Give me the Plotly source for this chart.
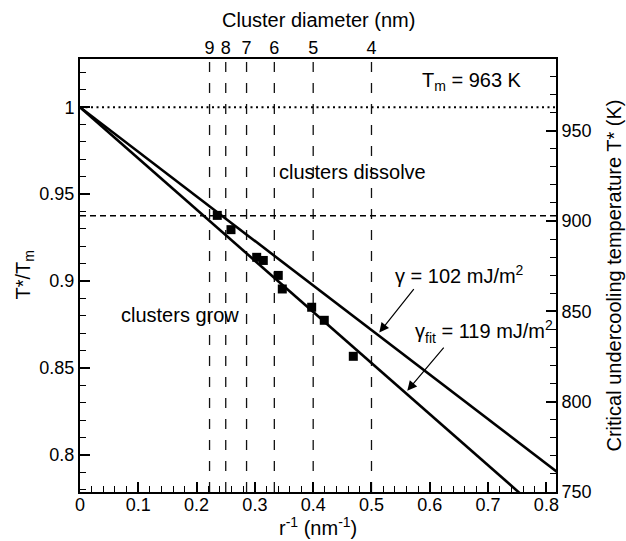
import plotly.graph_objects as go

# ---- data ----
r_inv_pts = [0.2355, 0.2590, 0.3031, 0.3144, 0.3401, 0.3470, 0.3974, 0.4190, 0.4688]
t_ratio_pts = [0.9378, 0.9296, 0.9137, 0.9119, 0.9033, 0.8955, 0.8850, 0.8775, 0.8568]

line_x = [0.0, 0.85]
line_102_y = [1.0, 0.7822]
line_119_y = [1.0, 0.7500]

diameters = [9, 8, 7, 6, 5, 4]
diam_pos = [2.0 / d for d in diameters]

Tm = 963
x_range = [0, 0.8165]
y_range = [0.7788, 1.0277]
threshold_ratio = 0.9376

x_ticks = [0, 0.1, 0.2, 0.3, 0.4, 0.5, 0.6, 0.7, 0.8]
x_ticktext = ["0", "0.1", "0.2", "0.3", "0.4", "0.5", "0.6", "0.7", "0.8"]
left_ticks = [0.8, 0.85, 0.9, 0.95, 1.0]
left_ticktext = ["0.8", "0.85", "0.9", "0.95", "1"]
right_ticks = [750, 800, 850, 900, 950]

FONT = "Arial, Liberation Sans, sans-serif"

fig = go.Figure()

fig.add_trace(go.Scatter(x=line_x, y=line_102_y, mode="lines",
                         line=dict(color="black", width=2.6), showlegend=False))
fig.add_trace(go.Scatter(x=line_x, y=line_119_y, mode="lines",
                         line=dict(color="black", width=2.6), showlegend=False))
fig.add_trace(go.Scatter(x=r_inv_pts, y=t_ratio_pts, mode="markers",
                         marker=dict(symbol="square", size=9, color="black"),
                         showlegend=False))
# dummy traces for secondary axes
fig.add_trace(go.Scatter(x=[None], y=[None], xaxis="x2", yaxis="y", showlegend=False))
fig.add_trace(go.Scatter(x=[None], y=[None], xaxis="x", yaxis="y2", showlegend=False))

shapes = []
for p in diam_pos:
    shapes.append(dict(type="line", xref="x", yref="paper", x0=p, x1=p, y0=0, y1=1,
                       line=dict(color="#111", width=1.3, dash="10px,11px"), layer="below"))
shapes.append(dict(type="line", xref="paper", yref="y", x0=0, x1=1,
                   y0=threshold_ratio, y1=threshold_ratio,
                   line=dict(color="black", width=1.5, dash="6px,4px"), layer="below"))
shapes.append(dict(type="line", xref="paper", yref="y", x0=0, x1=1, y0=1.0, y1=1.0,
                   line=dict(color="black", width=2, dash="2px,3.5px"), layer="below"))

C = dict(xanchor="center", yanchor="middle", showarrow=False, font=dict(size=20))
annotations = [
    dict(x=0.6724, y=1.0145, xref="x", yref="y", text="T<sub>m</sub> = 963 K", **C),
    dict(x=0.4666, y=0.963, xref="x", yref="y", text="clusters dissolve", **C),
    dict(x=0.1715, y=0.8808, xref="x", yref="y", text="clusters grow", **C),
    dict(x=0.6518, y=0.9037, xref="x", yref="y", text="γ = 102 mJ/m<sup>2</sup>", **C),
    dict(x=0.693, y=0.8712, xref="x", yref="y", text="γ<sub>fit</sub> = 119 mJ/m<sup>2</sup>", **C),
    dict(x=0.5134, y=0.8705, xref="x", yref="y", ax=0.5746, ay=0.8963, axref="x", ayref="y",
         text="", showarrow=True, arrowhead=2, arrowsize=1.6, arrowwidth=1.2, arrowcolor="black"),
    dict(x=0.5614, y=0.8370, xref="x", yref="y", ax=0.6261, ay=0.8626, axref="x", ayref="y",
         text="", showarrow=True, arrowhead=2, arrowsize=1.6, arrowwidth=1.2, arrowcolor="black"),
    # axis titles
    dict(x=0.5, y=0, xref="paper", yref="paper", yshift=-34,
         text="r<sup>-1</sup> (nm<sup>-1</sup>)", **C),
    dict(x=0.5, y=1, xref="paper", yref="paper", yshift=39,
         text="Cluster diameter (nm)", **C),
    dict(x=0, y=0.5, xref="paper", yref="paper", xshift=-56, textangle=-90,
         text="T*/T<sub>m</sub>", **C),
    dict(x=1, y=0.5, xref="paper", yref="paper", xshift=57, textangle=-90,
         text="Critical undercooling temperature T* (K)", **C),
]

fig.update_layout(
    width=626, height=541,
    margin=dict(l=80, r=70, t=59, b=49, autoexpand=False),
    paper_bgcolor="white", plot_bgcolor="white",
    font=dict(family=FONT, size=18, color="black"),
    shapes=shapes, annotations=annotations,
    xaxis=dict(range=x_range, tickvals=x_ticks, ticktext=x_ticktext,
               ticks="inside", ticklen=10, tickwidth=1.5, tickcolor="black",
               ticklabelstandoff=-5,
               minor=dict(dtick=0.02, tick0=0, ticks="inside", ticklen=6, tickwidth=1.2, tickcolor="black"),
               showline=True, linewidth=2, linecolor="black", mirror=True,
               showgrid=False, zeroline=False, automargin=False),
    xaxis2=dict(overlaying="x", side="top", range=x_range, tickvals=diam_pos,
                ticktext=[str(d) for d in diameters], ticks="", showline=False,
                showgrid=False, zeroline=False, automargin=False),
    yaxis=dict(range=y_range, tickvals=left_ticks, ticktext=left_ticktext,
               ticks="inside", ticklen=10, tickwidth=1.5, tickcolor="black",
               minor=dict(dtick=0.01, tick0=0.8, ticks="inside", ticklen=6, tickwidth=1.2, tickcolor="black"),
               showline=True, linewidth=2, linecolor="black",
               showgrid=False, zeroline=False, automargin=False),
    yaxis2=dict(overlaying="y", side="right", range=[y_range[0] * Tm, y_range[1] * Tm],
                tickvals=right_ticks, ticks="inside", ticklen=10, tickwidth=1.5, tickcolor="black",
                minor=dict(dtick=10, tick0=750, ticks="inside", ticklen=6, tickwidth=1.2, tickcolor="black"),
                showline=True, linewidth=2, linecolor="black",
                showgrid=False, zeroline=False, automargin=False),
)

fig.write_html("out.html")
